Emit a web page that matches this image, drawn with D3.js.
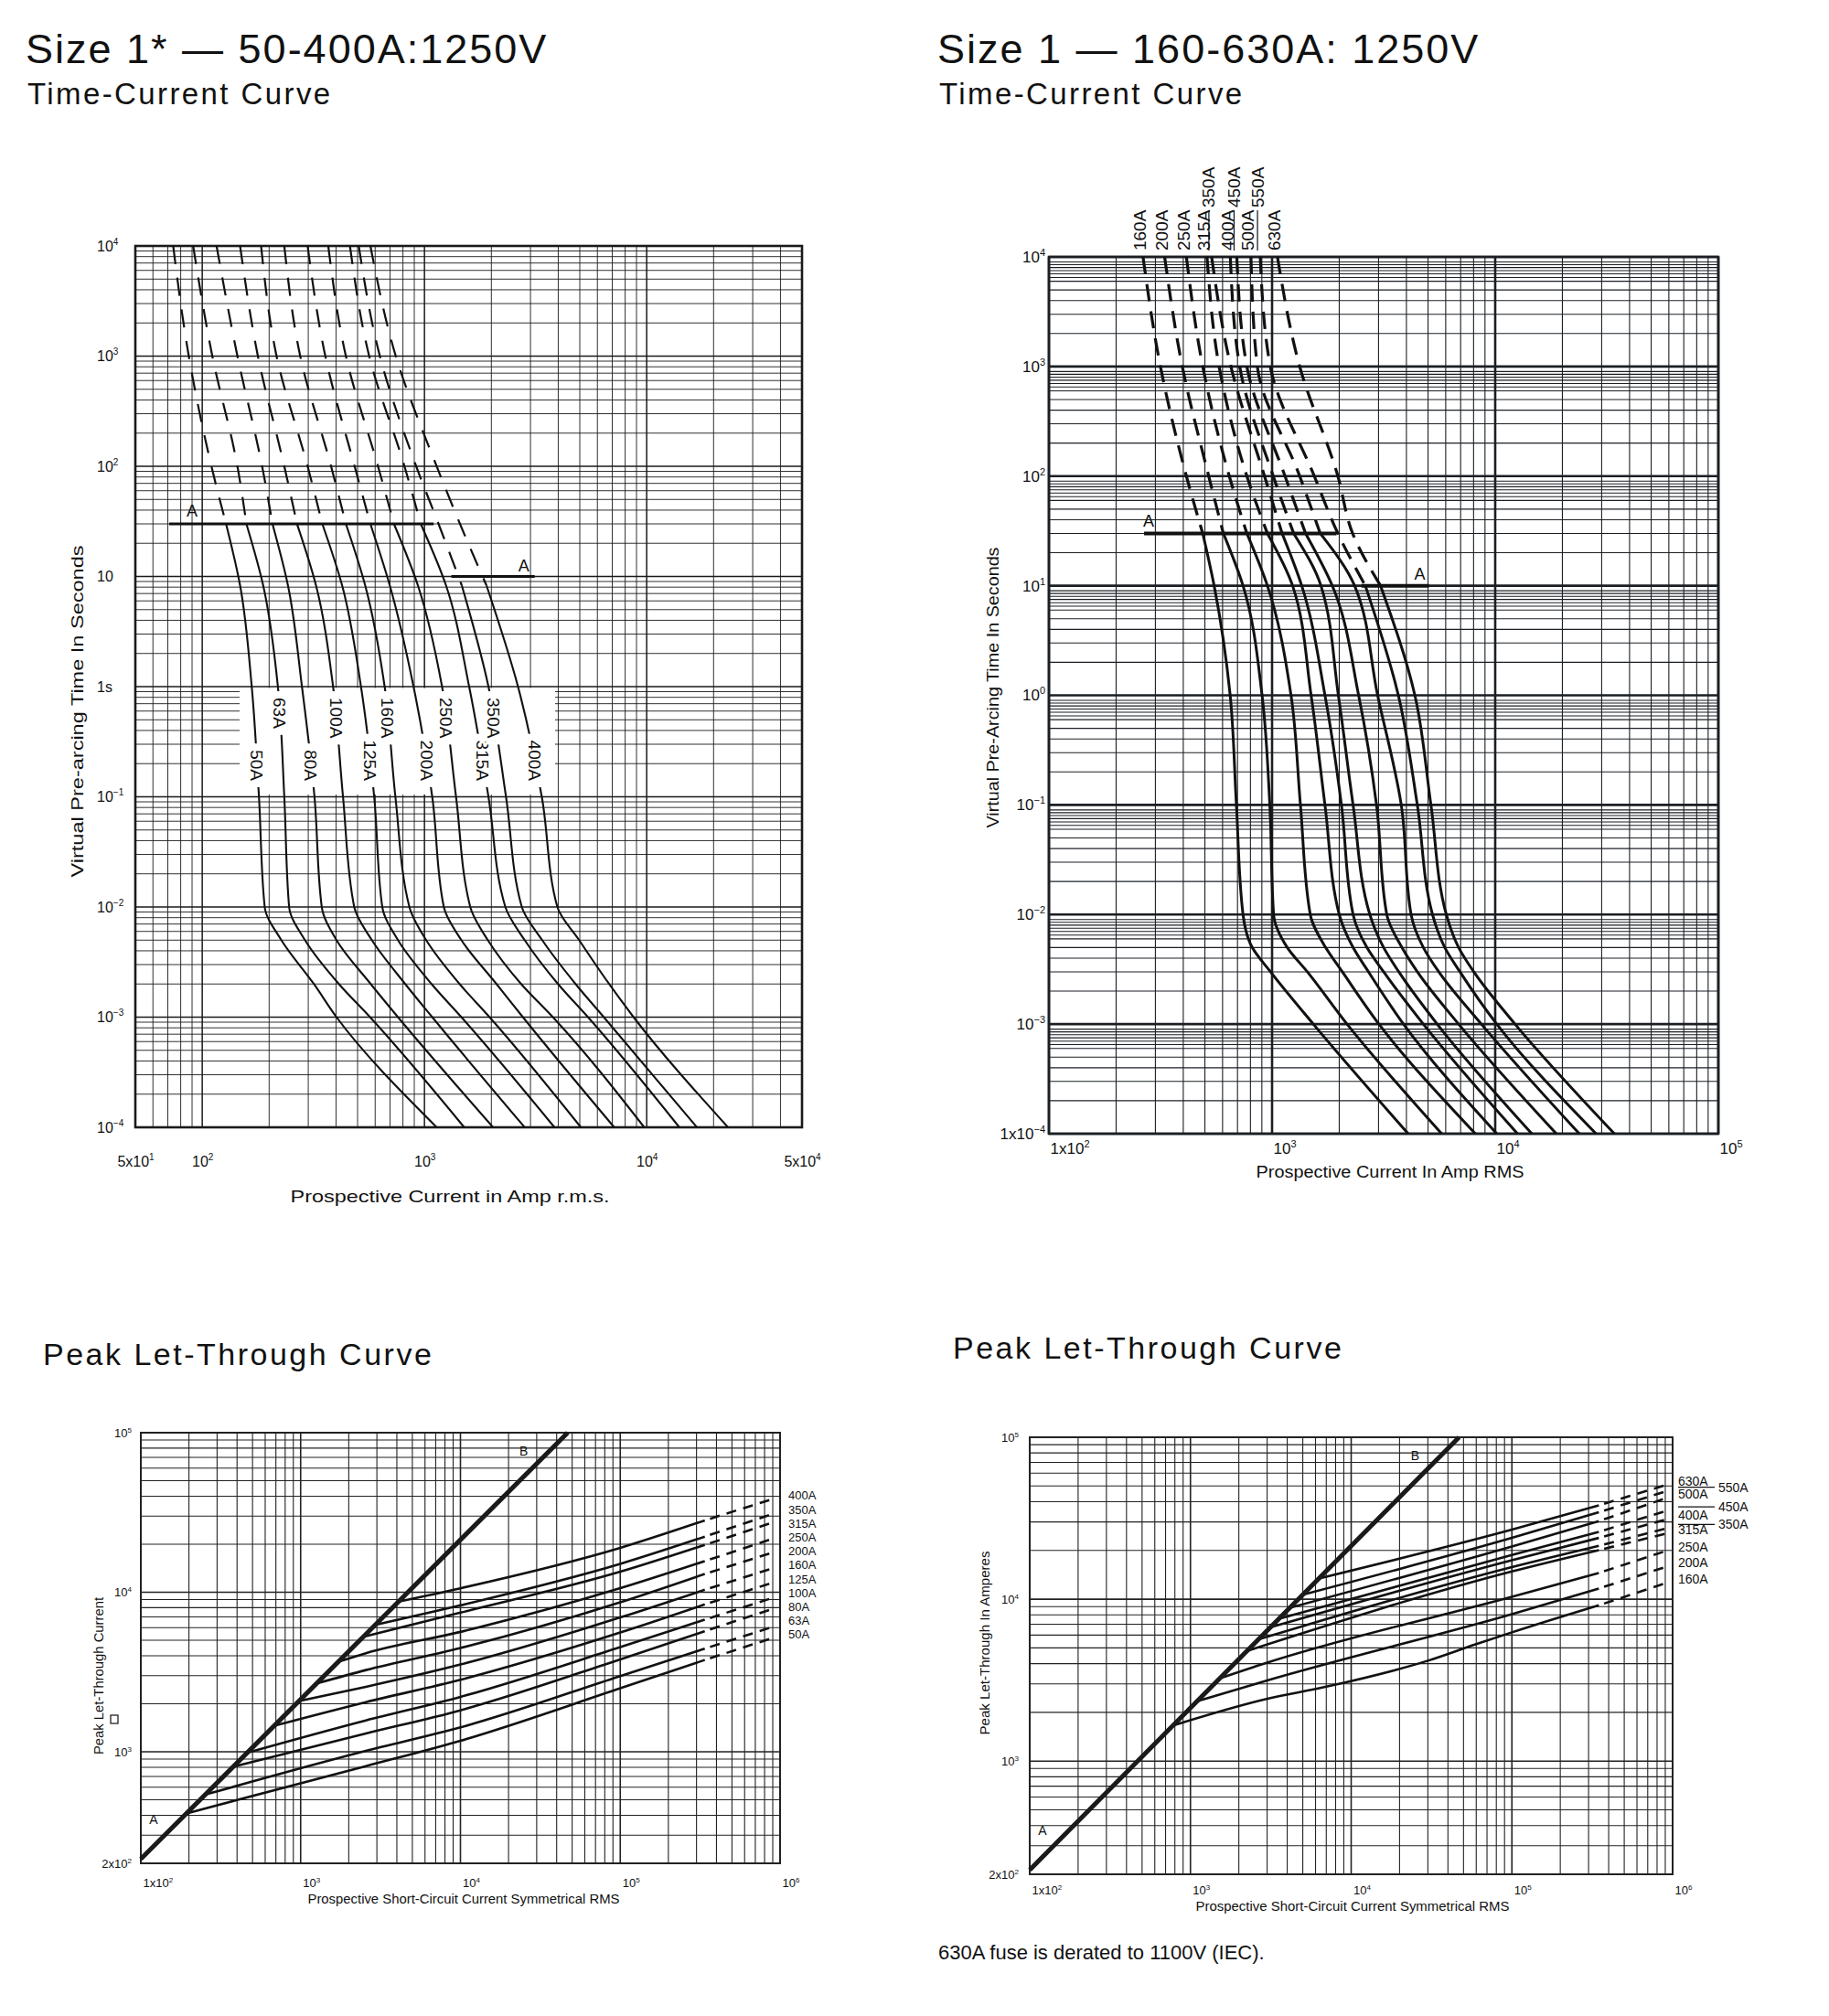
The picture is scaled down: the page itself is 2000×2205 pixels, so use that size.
<!DOCTYPE html>
<html>
<head>
<meta charset="utf-8">
<title>Size 1 fuse curves</title>
<script src="https://cdn.jsdelivr.net/npm/d3@7/dist/d3.min.js"></script>
<style>
  body { margin: 0; background: #fff; }
  svg { display: block; font-family: "Liberation Sans", Arial, Helvetica, sans-serif; }
</style>
</head>
<body>
<svg id="sheet" width="2000" height="2205"></svg>
<script>
// ---------- Size 1* time-current, 50-400A ----------
var tlFuses = ["50A", "63A", "80A", "100A", "125A", "160A", "200A", "250A", "315A", "350A", "400A"];
var tlTimes = [10000, 1000, 100, 30, 8.3, 1, 0.1, 0.01, 0.005, 0.002, 0.001, 0.0001];
var tlCurrents = [
    [74, 87, 110, 128, 148, 167, 180, 191, 227, 318, 402, 1135],
    [91, 111, 144, 158, 188, 219, 234, 246, 290, 412, 569, 1510],
    [116, 144, 186, 207, 243, 281, 320, 345, 402, 573, 760, 2037],
    [148, 178, 234, 267, 325, 388, 430, 483, 580, 819, 1084, 2825],
    [184, 216, 298, 347, 426, 518, 594, 646, 760, 1076, 1466, 3846],
    [234, 276, 380, 443, 541, 662, 740, 855, 1018, 1439, 1963, 5058],
    [298, 358, 485, 571, 698, 893, 1084, 1222, 1466, 2109, 2773, 7145],
    [369, 443, 618, 729, 934, 1200, 1387, 1607, 1928, 2723, 3784, 9750],
    [462, 564, 813, 962, 1250, 1589, 1941, 2312, 2825, 3990, 5445, 14030],
    [506, 630, 918, 1157, 1472, 1941, 2328, 2742, 3388, 4786, 6412, 16830],
    [571, 743, 1135, 1445, 1901, 2636, 3373, 3963, 4966, 6776, 8730, 23220]
];
var tlDashTo = [30, 30, 30, 30, 30, 30, 30, 30, 30, 8.3, 8.3];
var tlLineA = [[71, 30], [1100, 30]];
var tlLineA2 = [[1321, 10], [3133, 10]];
var tlTicksX = [50, 100, 1000, 10000, 50000];
var tlTickLabX = [["5x10", "1"], ["10", "2"], ["10", "3"], ["10", "4"], ["5x10", "4"]];
var tlTicksY = [10000, 1000, 100, 10, 1, 0.1, 0.01, 0.001, 0.0001];
var tlTickLabY = [["10", "4"], ["10", "3"], ["10", "2"], ["10", ""], ["1s", ""], ["10", "\u22121"], ["10", "\u22122"], ["10", "\u22123"], ["10", "\u22124"]];

// ---------- Size 1 time-current, 160-630A ----------
var trFuses = ["160A", "200A", "250A", "315A", "350A", "400A", "450A", "500A", "550A", "630A"];
var trTimes = [10000, 1000, 100, 30, 10, 1, 0.1, 0.01, 0.005, 0.003, 0.001, 0.0001];
var trCurrents = [
    [264, 316, 413, 489, 550, 649, 692, 741, 815, 984, 1531, 4074],
    [330, 396, 520, 605, 741, 902, 977, 1016, 1170, 1439, 2168, 5754],
    [413, 489, 643, 771, 953, 1216, 1340, 1483, 1738, 2065, 3013, 8147],
    [511, 579, 771, 953, 1236, 1496, 1726, 2000, 2307, 2704, 3882, 10160],
    [536, 654, 925, 1109, 1358, 1726, 2046, 2307, 2661, 3162, 4764, 12590],
    [650, 716, 1012, 1250, 1656, 1982, 2307, 2742, 3162, 3698, 5495, 14590],
    [695, 771, 1143, 1413, 1862, 2443, 2938, 3266, 3819, 4477, 6855, 18790],
    [804, 859, 1330, 1644, 2344, 2972, 3793, 4198, 4764, 5585, 8670, 23820],
    [885, 982, 1546, 1972, 2618, 3681, 4477, 5236, 5943, 6950, 10160, 28310],
    [1057, 1330, 1972, 2296, 3062, 4365, 5152, 6039, 6855, 8017, 12270, 34200]
];
var trDashTo = [30, 30, 30, 30, 30, 30, 30, 30, 10, 10];
var trUpper = ["350A", "450A", "550A"];
var trLineA = [[267, 30], [1945, 30]];
var trLineA2 = [[2512, 10], [5050, 10]];
var trTicksX = [100, 1000, 10000, 100000];
var trTickLabX = [["1x10", "2"], ["10", "3"], ["10", "4"], ["10", "5"]];
var trTicksY = [10000, 1000, 100, 10, 1, 0.1, 0.01, 0.001, 0.0001];
var trTickLabY = [["10", "4"], ["10", "3"], ["10", "2"], ["10", "1"], ["10", "0"], ["10", "\u22121"], ["10", "\u22122"], ["10", "\u22123"], ["1x10", "\u22124"]];

// ---------- peak let-through, 50-400A ----------
var blFuses = ["50A", "63A", "80A", "100A", "125A", "160A", "200A", "250A", "315A", "350A", "400A"];
var blSolid = [
    [[193, 411], [2560, 813], [10000, 1172], [100000, 2500], [338000, 3763]],
    [[253, 539], [2560, 1013], [10000, 1422], [100000, 2982], [338000, 4430]],
    [[379, 807], [2560, 1303], [10000, 1820], [100000, 3796], [338000, 5700]],
    [[464, 988], [2560, 1574], [10000, 2209], [100000, 4530], [338000, 6730]],
    [[684, 1457], [2560, 2049], [10000, 2827], [100000, 5590], [338000, 8390]],
    [[975, 2077], [2560, 2555], [10000, 3524], [100000, 6950], [338000, 10360]],
    [[1258, 2680], [2560, 3253], [10000, 4469], [100000, 8650], [338000, 13020]],
    [[1720, 3664], [2560, 4150], [10000, 5643], [100000, 10600], [338000, 15670]],
    [[2470, 5261], [10000, 7447], [100000, 13440], [338000, 19800]],
    [[2930, 6241], [10000, 8277], [100000, 15060], [338000, 22300]],
    [[4105, 8744], [10000, 10590], [100000, 18960], [338000, 28180]]
];
var blDashI = 920000;
var blDashEnd = [5210, 6110, 7930, 9290, 11560, 14230, 17880, 21800, 27540, 31150, 38700];

// ---------- peak let-through, 160-630A ----------
var brFuses = ["160A", "200A", "250A", "315A", "350A", "400A", "450A", "500A", "550A", "630A"];
var brSolid = [
    [[780, 1661], [2970, 2420], [7000, 2880], [30000, 4170], [60000, 5280], [100000, 6240], [347500, 9170]],
    [[1100, 2343], [2970, 3140], [100000, 8090], [347500, 11640]],
    [[1520, 3238], [2970, 4040], [100000, 10350], [347500, 14520]],
    [[2250, 4793], [100000, 14840], [347500, 20100]],
    [[2650, 5645], [100000, 15780], [347500, 21360]],
    [[3150, 6710], [100000, 17420], [347500, 23900]],
    [[3550, 7562], [100000, 18760], [347500, 26060]],
    [[4150, 8840], [100000, 21180], [347500, 30340]],
    [[5000, 10650], [100000, 23900], [347500, 34420]],
    [[6300, 13420], [100000, 26860], [347500, 38000]]
];
var brDashI = 930000;
var brDashEnd = [12680, 15960, 20000, 25520, 27470, 31270, 35320, 42360, 46630, 51050];
var brRightCol = ["350A", "450A", "550A"];

// line A-B (maximum peak) shared by both let-through charts
var lineB = [[100, 213], [46900, 100000]];
var peakTicksX = [100, 1000, 10000, 100000, 1000000];
var peakTickLabX = [["1x10", "2"], ["10", "3"], ["10", "4"], ["10", "5"], ["10", "6"]];
var peakTicksY = [100000, 10000, 1000, 200];
var peakTickLabY = [["10", "5"], ["10", "4"], ["10", "3"], ["2x10", "2"]];

var ink = "#111";
var svg = d3.select("#sheet");

function isDecade(v) {
    var l = Math.log10(v);
    return Math.abs(l - Math.round(l)) < 1e-6;
}

function drawGrid(g, x, y, st) {
    var xr = x.range(), yr = y.range();
    var yv = y.ticks().concat(st.yExtra || []);
    g.append("g").selectAll("line").data(x.ticks()).enter().append("line")
        .attr("x1", function(d) { return x(d); })
        .attr("x2", function(d) { return x(d); })
        .attr("y1", yr[0]).attr("y2", yr[1])
        .attr("stroke", st.color)
        .attr("stroke-width", function(d) { return isDecade(d) ? st.major : st.minor; });
    g.append("g").selectAll("line").data(yv).enter().append("line")
        .attr("x1", xr[0]).attr("x2", xr[1])
        .attr("y1", function(d) { return y(d); })
        .attr("y2", function(d) { return y(d); })
        .attr("stroke", st.color)
        .attr("stroke-width", function(d) { return isDecade(d) ? st.major : st.minor; });
    g.append("rect")
        .attr("x", xr[0]).attr("y", yr[1])
        .attr("width", xr[1] - xr[0]).attr("height", yr[0] - yr[1])
        .attr("fill", "none").attr("stroke", st.color).attr("stroke-width", st.frame);
}

function tickText(g, axis, vals, labels, o) {
    var a = g.append("g")
        .attr("transform", o.transform)
        .call(axis.tickValues(vals).tickSize(0).tickPadding(o.pad).tickFormat(function() { return ""; }));
    a.select(".domain").remove();
    a.attr("font-family", null).attr("font-size", o.size).attr("text-anchor", o.anchor);
    a.selectAll(".tick text").each(function(d, i) {
        var t = d3.select(this).attr("fill", ink);
        if (o.dx !== undefined) t.attr("x", o.dx);
        t.append("tspan").text(labels[i][0]);
        if (labels[i][1]) t.append("tspan").attr("dy", -o.rise).attr("font-size", o.sup).text(labels[i][1]);
    });
}

function label(g, x, y, str, o) {
    var t = g.append("text").attr("x", x).attr("y", y)
        .attr("font-size", o.size).attr("fill", ink).text(str);
    if (o.ls) t.attr("letter-spacing", o.ls);
    if (o.anchor) t.attr("text-anchor", o.anchor);
    if (o.len) t.attr("textLength", o.len).attr("lengthAdjust", "spacingAndGlyphs");
    if (o.central) t.attr("dominant-baseline", "central");
    if (o.rot) t.attr("transform", "rotate(" + o.rot + "," + x + "," + y + ")");
    return t;
}

// x position of a polyline (pixel points) at a given pixel y
function xAtY(p, yy) {
    for (var k = 1; k < p.length; k++) {
        if ((p[k - 1][1] - yy) * (p[k][1] - yy) <= 0) {
            var f = (yy - p[k - 1][1]) / (p[k][1] - p[k - 1][1]);
            return p[k - 1][0] + f * (p[k][0] - p[k - 1][0]);
        }
    }
    return p[0][0];
}

// ---------- headings ----------
label(svg, 28, 69, "Size 1* \u2014 50-400A:1250V", {size: 45, ls: 2});
label(svg, 30, 114, "Time-Current Curve", {size: 33, ls: 2.4});
label(svg, 1025, 69, "Size 1 \u2014 160-630A: 1250V", {size: 45, ls: 2});
label(svg, 1027, 114, "Time-Current Curve", {size: 33, ls: 2.4});
label(svg, 47, 1493, "Peak Let-Through Curve", {size: 34, ls: 2.5});
label(svg, 1042, 1486, "Peak Let-Through Curve", {size: 34, ls: 2.5});
label(svg, 1026, 2143, "630A fuse is derated to 1100V (IEC).", {size: 22});

// ================= top left =================
(function() {
    var x = d3.scaleLog().domain([50, 50000]).range([148, 877]);
    var y = d3.scaleLog().domain([0.0001, 10000]).range([1233, 269]);
    var g = svg.append("g");
    drawGrid(g, x, y, {color: "#1a1a1a", major: 1.5, minor: 0.9, frame: 2.6});

    // clear panel that carries the rating labels
    g.append("rect").attr("x", 262).attr("y", y(1) + 1.5)
        .attr("width", 345).attr("height", 869 - y(1) - 1.5).attr("fill", "#fff");

    var straight = d3.line().x(function(d) { return x(d[0]); }).y(function(d) { return y(d[1]); });
    var curve = d3.line().x(function(d) { return x(d[0]); }).y(function(d) { return y(d[1]); }).curve(d3.curveMonotoneY);

    [tlLineA, tlLineA2].forEach(function(l) {
        g.append("path").attr("d", straight(l)).attr("fill", "none").attr("stroke", ink).attr("stroke-width", 3);
    });
    label(g, x(tlLineA[0][0]) + 25, y(30) - 8, "A", {size: 18, anchor: "middle"});
    label(g, x(tlLineA2[1][0]) - 12, y(10) - 6, "A", {size: 18, anchor: "middle"});

    var pix = [];
    tlCurrents.forEach(function(row, i) {
        var pts = row.map(function(c, j) { return [c, tlTimes[j]]; });
        var k = tlTimes.indexOf(tlDashTo[i]);
        g.append("path").attr("d", curve(pts.slice(0, k + 1)))
            .attr("fill", "none").attr("stroke", ink).attr("stroke-width", 2.2)
            .attr("stroke-dasharray", "20 15");
        g.append("path").attr("d", curve(pts.slice(k)))
            .attr("fill", "none").attr("stroke", ink).attr("stroke-width", 2.1);
        pix.push(pts.map(function(d) { return [x(d[0]), y(d[1])]; }));
    });

    // rating labels sit on their own curve, the curve broken behind them
    tlFuses.forEach(function(f, i) {
        var upper = i % 2 === 1;
        var xc = xAtY(pix[i], upper ? 783 : 834);
        var t = label(g, xc, upper ? 763 : 854, f, {size: 19, rot: 90, central: true, anchor: upper ? "start" : "end"});
        var len = t.node().getComputedTextLength();
        var top = upper ? 756 : 854 - len - 7;
        g.insert("rect", function() { return t.node(); })
            .attr("x", xc - 8).attr("y", top).attr("width", 16).attr("height", len + 14).attr("fill", "#fff");
    });

    tickText(g, d3.axisBottom(x), tlTicksX, tlTickLabX,
        {transform: "translate(0,1233)", pad: 32, size: 16, sup: 10, rise: 7, anchor: "middle"});
    tickText(g, d3.axisLeft(y), tlTicksY, tlTickLabY,
        {transform: "translate(148,0)", pad: 0, size: 16, sup: 10, rise: 7, anchor: "start", dx: -42});

    label(g, 84, 778, "Virtual Pre-arcing Time In Seconds", {size: 19, anchor: "middle", rot: -90, central: true, len: 363});
    label(g, 492, 1315, "Prospective Current in Amp r.m.s.", {size: 19, anchor: "middle", len: 349});
})();

// ================= top right =================
(function() {
    var x = d3.scaleLog().domain([100, 100000]).range([1147, 1879]);
    var y = d3.scaleLog().domain([0.0001, 10000]).range([1240, 281]);
    var g = svg.append("g");
    var extra = [];
    d3.range(-4, 4).forEach(function(e) {
        [6.5, 7.5, 8.5].forEach(function(m) { extra.push(m * Math.pow(10, e)); });
    });
    drawGrid(g, x, y, {color: "#1b1f24", major: 2.6, minor: 1.1, frame: 2.6, yExtra: extra});

    var straight = d3.line().x(function(d) { return x(d[0]); }).y(function(d) { return y(d[1]); });
    var curve = d3.line().x(function(d) { return x(d[0]); }).y(function(d) { return y(d[1]); }).curve(d3.curveMonotoneY);

    [trLineA, trLineA2].forEach(function(l) {
        g.append("path").attr("d", straight(l)).attr("fill", "none").attr("stroke", ink).attr("stroke-width", 4);
    });
    label(g, x(trLineA[0][0]) + 5, y(30) - 7, "A", {size: 18, anchor: "middle"});
    label(g, x(trLineA2[1][0]) - 10, y(10) - 7, "A", {size: 18, anchor: "middle"});

    trCurrents.forEach(function(row, i) {
        var pts = row.map(function(c, j) { return [c, trTimes[j]]; });
        var k = trTimes.indexOf(trDashTo[i]);
        g.append("path").attr("d", curve(pts.slice(0, k + 1)))
            .attr("fill", "none").attr("stroke", ink).attr("stroke-width", 3.2)
            .attr("stroke-dasharray", "19 11");
        g.append("path").attr("d", curve(pts.slice(k)))
            .attr("fill", "none").attr("stroke", ink).attr("stroke-width", 3);
    });

    trFuses.forEach(function(f, i) {
        var up = trUpper.indexOf(f) >= 0;
        var xc = x(trCurrents[i][0]) - 3;
        label(g, xc, up ? 227 : 274, f, {size: 19, rot: -90, central: true});
        if (up) {
            g.append("line").attr("x1", xc).attr("x2", xc).attr("y1", 230).attr("y2", 274)
                .attr("stroke", ink).attr("stroke-width", 1.2);
        }
    });

    tickText(g, d3.axisBottom(x), trTicksX, trTickLabX,
        {transform: "translate(0,1240)", pad: 10, size: 17, sup: 11, rise: 7, anchor: "start", dx: 1});
    tickText(g, d3.axisLeft(y), trTicksY, trTickLabY,
        {transform: "translate(1147,0)", pad: 4, size: 17, sup: 11, rise: 7, anchor: "end"});

    label(g, 1086, 752, "Virtual Pre-Arcing Time In Seconds", {size: 18, anchor: "middle", rot: -90, central: true, len: 307});
    label(g, 1520, 1288, "Prospective Current In Amp RMS", {size: 18, anchor: "middle", len: 293});
})();

// ================= let-through panels =================
function peakPanel(o) {
    var x = d3.scaleLog().domain([100, 1000000]).range([o.x0, o.x1]);
    var y = d3.scaleLog().domain([200, 100000]).range([o.y1, o.y0]);
    var g = svg.append("g");
    drawGrid(g, x, y, {color: "#222", major: 1.6, minor: 1.1, frame: 2});

    var curve = d3.line().x(function(d) { return x(d[0]); }).y(function(d) { return y(d[1]); }).curve(d3.curveMonotoneX);
    var straight = d3.line().x(function(d) { return x(d[0]); }).y(function(d) { return y(d[1]); });

    o.solid.forEach(function(pts, i) {
        g.append("path").attr("d", curve(pts))
            .attr("fill", "none").attr("stroke", ink).attr("stroke-width", 2.6);
        g.append("path").attr("d", straight([pts[pts.length - 1], [o.dashI, o.dashEnd[i]]]))
            .attr("fill", "none").attr("stroke", ink).attr("stroke-width", 2.6)
            .attr("stroke-dasharray", "11 8").attr("stroke-dashoffset", 13);
    });

    g.append("path").attr("d", straight(lineB))
        .attr("fill", "none").attr("stroke", "#1a1a1a").attr("stroke-width", 5);
    var b0 = lineB[0], b1 = lineB[1];
    label(g, x(b0[0]) + 14, y(b0[1]) - 38, "A", {size: 14, anchor: "middle"});
    label(g, x(b1[0]) - 48, y(b1[1]) + 25, "B", {size: 14, anchor: "middle"});

    // rating labels to the right of the dashed ends
    var n = o.fuses.length;
    var topY = y(o.dashEnd[n - 1]) - o.lift;
    o.fuses.forEach(function(f, i) {
        var right = o.rightCol && o.rightCol.indexOf(f) >= 0;
        var yy = o.step ? topY + (n - 1 - i) * o.step : y(o.dashEnd[i]) - o.lift;
        label(g, right ? o.x1 + 50 : o.x1 + o.labGap, yy, f, {size: o.labSize, central: true});
        if (right) {
            g.append("line").attr("x1", o.x1 + o.labGap).attr("x2", o.x1 + 46)
                .attr("y1", yy).attr("y2", yy).attr("stroke", ink).attr("stroke-width", 1.2);
        }
    });

    tickText(g, d3.axisBottom(x), peakTicksX, peakTickLabX,
        {transform: "translate(0," + o.y1 + ")", pad: o.padX, size: 13, sup: 8, rise: 5, anchor: "start", dx: 2});
    tickText(g, d3.axisLeft(y), peakTicksY, peakTickLabY,
        {transform: "translate(" + o.x0 + ",0)", pad: o.padY, size: 13, sup: 8, rise: 5, anchor: "end"});

    label(g, o.yTitle[0], o.yTitle[1], o.yTitle[2], {size: 15, anchor: "middle", rot: -90, central: true, len: o.yTitle[3]});
    label(g, o.xTitle[0], o.xTitle[1], "Prospective Short-Circuit Current Symmetrical RMS", {size: 14, anchor: "middle", len: o.xTitle[2]});
    return g;
}

var blPanel = peakPanel({
    x0: 154, x1: 853, y0: 1567, y1: 2038,
    solid: blSolid, dashI: blDashI, dashEnd: blDashEnd, fuses: blFuses,
    lift: 3, step: 15.2, labSize: 13, labGap: 9, padX: 17, padY: 10,
    yTitle: [107, 1833, "Peak Let-Through Current", 172],
    xTitle: [507, 2082, 341]
});
blPanel.append("rect").attr("x", 121).attr("y", 1876).attr("width", 8).attr("height", 9)
    .attr("fill", "none").attr("stroke", ink).attr("stroke-width", 1.2);

peakPanel({
    x0: 1126, x1: 1829, y0: 1572, y1: 2050,
    solid: brSolid, dashI: brDashI, dashEnd: brDashEnd, fuses: brFuses, rightCol: brRightCol,
    lift: 4, labSize: 14, labGap: 6, padX: 13, padY: 12,
    yTitle: [1076, 1797, "Peak Let-Through In Amperes", 201],
    xTitle: [1479, 2090, 343]
});
</script>
</body>
</html>
